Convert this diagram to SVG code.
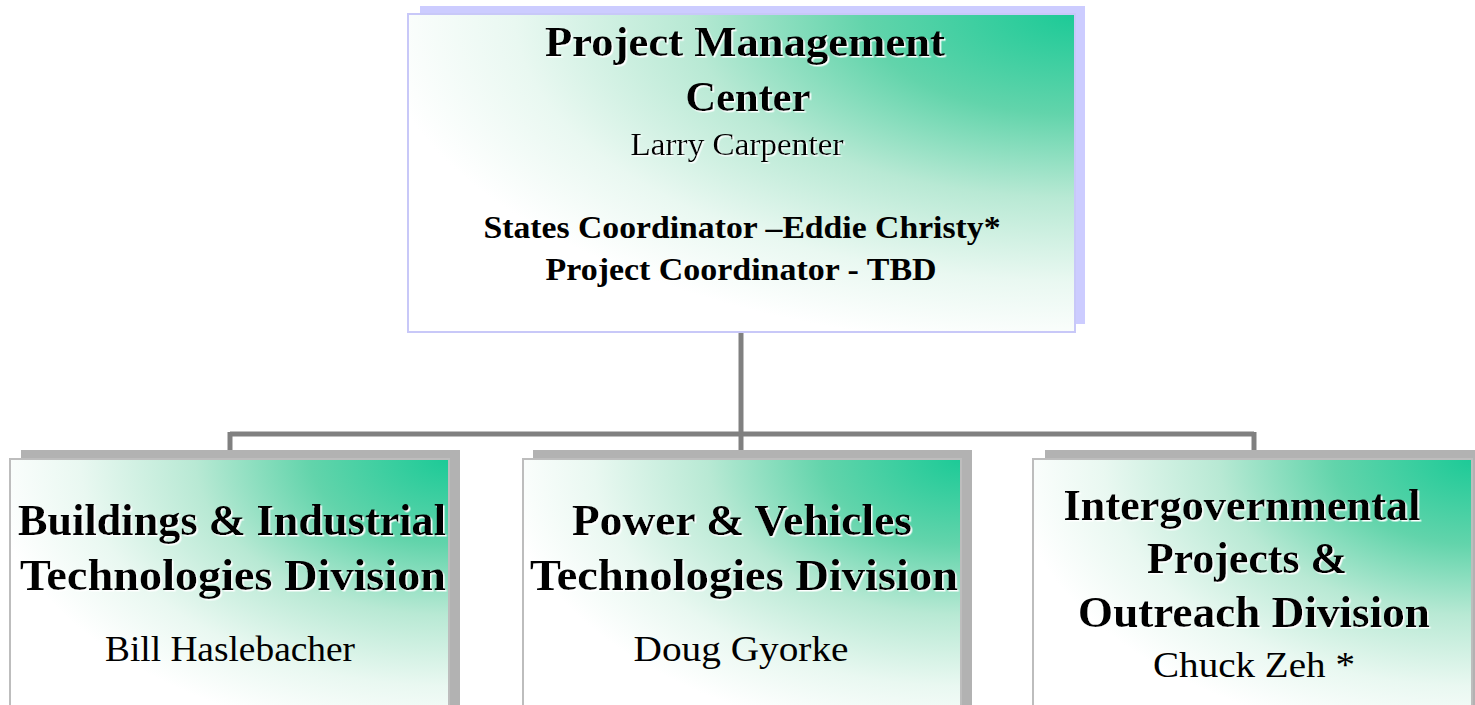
<svg xmlns="http://www.w3.org/2000/svg" width="1475" height="705" viewBox="0 0 1475 705">
  <defs>
    <radialGradient id="fill" cx="1" cy="0" r="1.05" fx="1" fy="0" gradientUnits="objectBoundingBox">
      <stop offset="0" stop-color="#1cca97"/>
      <stop offset="0.3" stop-color="#62d4ab"/>
      <stop offset="0.55" stop-color="#b8e9d4"/>
      <stop offset="0.8" stop-color="#e9f8f1"/>
      <stop offset="1" stop-color="#ffffff"/>
    </radialGradient>
    <filter id="ts" x="-5%" y="-20%" width="110%" height="140%">
      <feDropShadow dx="1.5" dy="1.5" stdDeviation="0" flood-color="#ffffff" flood-opacity="1"/>
    </filter>
  </defs>
  <style>
    .t { font-family: "Liberation Serif", "Times New Roman", serif; fill: #000; text-anchor: middle; }
    .b { font-weight: bold; }
    .conn { stroke: #808080; stroke-width: 5; fill: none; }
    .shTop { fill: #ccccff; }
    .shBot { fill: #b2b2b2; }
    .boxTop { fill: url(#fill); stroke: #c8c8f8; stroke-width: 2; }
    .boxBot { fill: url(#fill); stroke: #bdbdbd; stroke-width: 2; }
  </style>
  <rect width="1475" height="705" fill="#ffffff"/>

  <g id="connectors">
    <line class="conn" x1="741" y1="332" x2="741" y2="434"/>
    <line class="conn" x1="230" y1="434" x2="1254" y2="434"/>
    <line class="conn" x1="230" y1="432" x2="230" y2="452"/>
    <line class="conn" x1="741" y1="432" x2="741" y2="452"/>
    <line class="conn" x1="1254" y1="432" x2="1254" y2="452"/>
  </g>

  <g id="node-pmc">
    <rect class="shTop" x="420" y="6" width="665" height="318"/>
    <rect class="boxTop" x="408" y="14" width="667" height="318"/>
    <g filter="url(#ts)">
      <text class="t b" x="745" y="56" font-size="42" textLength="400" lengthAdjust="spacingAndGlyphs">Project Management</text>
      <text class="t b" x="748" y="111" font-size="42" textLength="125" lengthAdjust="spacingAndGlyphs">Center</text>
      <text class="t" x="737" y="155" font-size="32" textLength="213" lengthAdjust="spacingAndGlyphs">Larry Carpenter</text>
    </g>
    <text class="t b" x="742" y="238" font-size="32" textLength="517" lengthAdjust="spacingAndGlyphs">States Coordinator –Eddie Christy*</text>
    <text class="t b" x="741" y="280" font-size="32" textLength="391" lengthAdjust="spacingAndGlyphs">Project Coordinator - TBD</text>
  </g>

  <g id="node-buildings">
    <rect class="shBot" x="21" y="450" width="439" height="270"/>
    <rect class="boxBot" x="10" y="459" width="439" height="270"/>
    <g filter="url(#ts)">
      <text class="t b" x="232" y="535" font-size="44" textLength="428" lengthAdjust="spacingAndGlyphs">Buildings &amp; Industrial</text>
      <text class="t b" x="233" y="590" font-size="44" textLength="426" lengthAdjust="spacingAndGlyphs">Technologies Division</text>
    </g>
    <text class="t" x="230" y="661" font-size="36" textLength="250" lengthAdjust="spacingAndGlyphs">Bill Haslebacher</text>
  </g>

  <g id="node-power">
    <rect class="shBot" x="533" y="450" width="439" height="270"/>
    <rect class="boxBot" x="523" y="459" width="438" height="270"/>
    <g filter="url(#ts)">
      <text class="t b" x="742" y="535" font-size="44" textLength="340" lengthAdjust="spacingAndGlyphs">Power &amp; Vehicles</text>
      <text class="t b" x="744" y="590" font-size="44" textLength="428" lengthAdjust="spacingAndGlyphs">Technologies Division</text>
    </g>
    <text class="t" x="741" y="661" font-size="36" textLength="215" lengthAdjust="spacingAndGlyphs">Doug Gyorke</text>
  </g>

  <g id="node-intergov">
    <rect class="shBot" x="1045" y="450" width="440" height="270"/>
    <rect class="boxBot" x="1033" y="459" width="439" height="270"/>
    <g filter="url(#ts)">
      <text class="t b" x="1242" y="520" font-size="44" textLength="357" lengthAdjust="spacingAndGlyphs">Intergovernmental</text>
      <text class="t b" x="1247" y="573" font-size="44" textLength="200" lengthAdjust="spacingAndGlyphs">Projects &amp;</text>
      <text class="t b" x="1254" y="627" font-size="44" textLength="352" lengthAdjust="spacingAndGlyphs">Outreach Division</text>
    </g>
    <text class="t" x="1254" y="677" font-size="36" textLength="202" lengthAdjust="spacingAndGlyphs">Chuck Zeh *</text>
  </g>
</svg>
